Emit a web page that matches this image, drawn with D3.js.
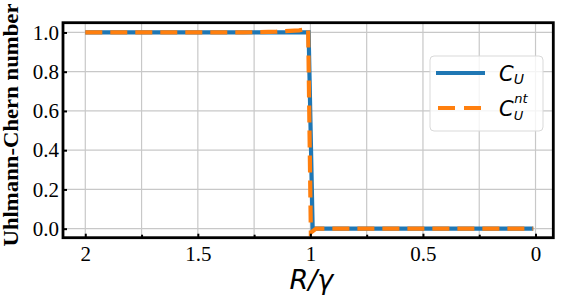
<!DOCTYPE html>
<html><head><meta charset="utf-8">
<script src="https://cdn.jsdelivr.net/npm/d3@7"></script>
<style>body{margin:0;background:#fff;}svg{display:block;}</style>
</head><body>
<svg id="c" width="565" height="300"></svg>
<script>
// Data
const xBlue = [2.0, 1.5, 1.2, 1.008, 0.99, 0.7, 0.3, 0.01];
const cU    = [1, 1, 1, 1, 0, 0, 0, 0];
const xOrange = [2.0, 1.5, 1.3, 1.15, 1.05, 1.01, 0.998, 0.975, 0.7, 0.3, 0.01];
const cUnt    = [1, 1, 1.0, 1.004, 1.011, 1.02, -0.02, 0.0, 0, 0, 0];
const xTicks = [2, 1.5, 1, 0.5, 0];
const xTickLabels = ["2", "1.5", "1", "0.5", "0"];
const xMinor = [1.75, 1.25, 0.75, 0.25];
const yTicks = [0, 0.2, 0.4, 0.6, 0.8, 1.0];
const yTickLabels = ["0.0", "0.2", "0.4", "0.6", "0.8", "1.0"];

const svg = d3.select("#c");
const L = 63, R = 553.3, T = 22.7, B = 237.7;
const x = d3.scaleLinear().domain([2.099, -0.079]).range([L, R]);
const y = d3.scaleLinear().domain([-0.046, 1.0498]).range([B, T]);

// grid
const g = svg.append("g");
[...xTicks, ...xMinor].forEach(v => {
  g.append("line").attr("x1", x(v)).attr("x2", x(v)).attr("y1", T).attr("y2", B)
    .attr("stroke", "#c8c8c8").attr("stroke-width", 1.2);
});
yTicks.forEach(v => {
  g.append("line").attr("x1", L).attr("x2", R).attr("y1", y(v)).attr("y2", y(v))
    .attr("stroke", "#c8c8c8").attr("stroke-width", 1.2);
});

// lines
const line = d3.line().x(d => x(d[0])).y(d => y(d[1]));
svg.append("path").datum(xBlue.map((v, i) => [v, cU[i]]))
  .attr("d", line).attr("fill", "none").attr("stroke", "#1f77b4").attr("stroke-width", 4.2);
svg.append("path").datum(xOrange.map((v, i) => [v, cUnt[i]]))
  .attr("d", line).attr("fill", "none").attr("stroke", "#ff7f0e").attr("stroke-width", 4.2)
  .attr("stroke-dasharray", "17,8");

// axes (inward ticks)
const xAxis = svg.append("g").attr("transform", `translate(0,${B})`)
  .call(d3.axisBottom(x).tickValues(xTicks).tickFormat((d, i) => xTickLabels[i]).tickSizeInner(-4).tickSizeOuter(0).tickPadding(8));
const xMinorAxis = svg.append("g").attr("transform", `translate(0,${B})`)
  .call(d3.axisBottom(x).tickValues(xMinor).tickFormat("").tickSizeInner(-3).tickSizeOuter(0));
const yAxis = svg.append("g").attr("transform", `translate(${L},0)`)
  .call(d3.axisLeft(y).tickValues(yTicks).tickFormat((d, i) => yTickLabels[i]).tickSizeInner(-4).tickSizeOuter(0).tickPadding(4));
[xAxis, xMinorAxis, yAxis].forEach(a => {
  a.select(".domain").remove();
  a.selectAll(".tick line").attr("stroke", "#000").attr("stroke-width", 2);
  a.selectAll("text").attr("font-family", "Liberation Serif").attr("font-size", 21).attr("fill", "#000");
});

// frame
svg.append("rect").attr("x", L).attr("y", T).attr("width", R - L).attr("height", B - T)
  .attr("fill", "none").attr("stroke", "#000").attr("stroke-width", 2.8);

// axis labels
svg.append("text").attr("transform", `translate(${x(1.0) + 1},289) `)
  .attr("text-anchor", "middle").attr("font-family", "DejaVu Sans").attr("font-style", "italic")
  .attr("font-size", 27).text("R/γ");
svg.append("text").attr("transform", "translate(18,125) rotate(-90)")
  .attr("text-anchor", "middle").attr("font-family", "Liberation Serif").attr("font-weight", "bold")
  .attr("font-size", 21).attr("textLength", 243).attr("lengthAdjust", "spacingAndGlyphs")
  .text("Uhlmann-Chern number");

// legend
const lg = svg.append("g");
lg.append("rect").attr("x", 430).attr("y", 56).attr("width", 113).attr("height", 75).attr("rx", 4)
  .attr("fill", "rgba(255,255,255,0.8)").attr("stroke", "#d9d9d9").attr("stroke-width", 1);
lg.append("line").attr("x1", 436).attr("x2", 485).attr("y1", 73).attr("y2", 73)
  .attr("stroke", "#1f77b4").attr("stroke-width", 4.2);
lg.append("line").attr("x1", 438).attr("x2", 485).attr("y1", 108).attr("y2", 108)
  .attr("stroke", "#ff7f0e").attr("stroke-width", 4.2).attr("stroke-dasharray", "17,9");
const t1 = lg.append("text").attr("x", 499).attr("y", 81).attr("font-family", "DejaVu Sans")
  .attr("font-style", "italic").attr("font-size", 21);
t1.append("tspan").text("C");
t1.append("tspan").attr("font-size", 14).attr("dy", 3).text("U");
const t2 = lg.append("text").attr("x", 499).attr("y", 116).attr("font-family", "DejaVu Sans")
  .attr("font-style", "italic").attr("font-size", 21);
t2.append("tspan").text("C");
t2.append("tspan").attr("font-size", 13).attr("dy", 4).text("U");
t2.append("tspan").attr("font-size", 13).attr("dx", -9).attr("dy", -17).text("nt");
</script>
</body></html>
